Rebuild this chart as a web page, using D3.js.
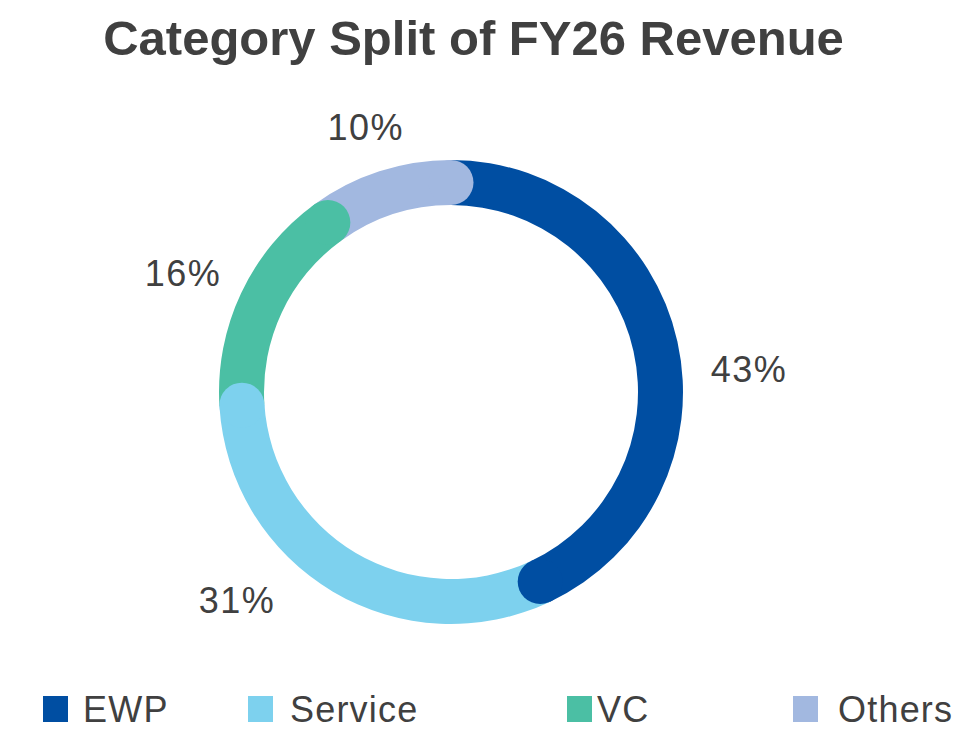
<!DOCTYPE html>
<html>
<head>
<meta charset="utf-8">
<script src="https://cdn.jsdelivr.net/npm/d3@7"></script>
<style>
  html, body { margin: 0; padding: 0; background: #ffffff; }
  svg { display: block; }
  text { font-family: "Liberation Sans", Arial, Helvetica, sans-serif; fill: #404040; }
</style>
</head>
<body>
<svg id="chart" width="953" height="740"></svg>
<script>
// ---- data ----
const categories = ["EWP", "Service", "VC", "Others"];
const shares = [43, 31, 16, 10];
const shareLabels = ["43%", "31%", "16%", "10%"];
const colors = ["#004EA2", "#7DD1EE", "#4BBFA4", "#A2B8E0"];
const title = "Category Split of FY26 Revenue";

// ---- layout (not data) ----
const W = 953, H = 740;
const cx = 451, cy = 392;
const outerR = 232, innerR = 187;
const midR = (outerR + innerR) / 2, capR = (outerR - innerR) / 2;
const labelShiftDeg = [8.3, 15.3, -1.3, 0];
const labelRadius = [298, 299, 294, 278];
const legendX = [43, 248, 567, 793];
const legendTextGap = [40, 42, 30, 45];

const svg = d3.select("#chart");

svg.append("text")
  .attr("x", 473.5).attr("y", 55)
  .attr("text-anchor", "middle")
  .style("font-size", "49px").style("font-weight", "bold")
  .text(title);

const pie = d3.pie().sort(null).value(d => d.v).startAngle(0).endAngle(2 * Math.PI);
const arcs = pie(categories.map((c, i) => ({ c, v: shares[i], i })));

const arc = d3.arc().innerRadius(innerR).outerRadius(outerR);
const g = svg.append("g").attr("transform", `translate(${cx},${cy})`);

g.selectAll("path.seg").data(arcs).enter().append("path")
  .attr("class", "seg")
  .attr("d", arc)
  .attr("fill", d => colors[d.data.i]);

// rounded end caps drawn on top of the next segment's start
g.selectAll("circle.cap").data(arcs).enter().append("circle")
  .attr("class", "cap")
  .attr("cx", d => midR * Math.sin(d.endAngle))
  .attr("cy", d => -midR * Math.cos(d.endAngle))
  .attr("r", capR)
  .attr("fill", d => colors[d.data.i]);

// percentage labels
g.selectAll("text.lbl").data(arcs).enter().append("text")
  .attr("class", "lbl")
  .attr("text-anchor", "middle")
  .style("font-size", "36px")
  .style("letter-spacing", "1.5px")
  .attr("x", d => {
    const a = (d.startAngle + d.endAngle) / 2 + labelShiftDeg[d.data.i] * Math.PI / 180;
    return labelRadius[d.data.i] * Math.sin(a) + 0.75;
  })
  .attr("y", d => {
    const a = (d.startAngle + d.endAngle) / 2 + labelShiftDeg[d.data.i] * Math.PI / 180;
    return -labelRadius[d.data.i] * Math.cos(a) + 12.8;
  })
  .text(d => shareLabels[d.data.i]);

// legend
const leg = svg.append("g").selectAll("g").data(categories).enter().append("g")
  .attr("transform", (d, i) => `translate(${legendX[i]},696)`);
leg.append("rect").attr("width", 25).attr("height", 26)
  .attr("fill", (d, i) => colors[i]);
leg.append("text")
  .attr("x", (d, i) => legendTextGap[i]).attr("y", 26)
  .style("font-size", "36px")
  .style("letter-spacing", "1.2px")
  .text(d => d);
</script>
</body>
</html>
